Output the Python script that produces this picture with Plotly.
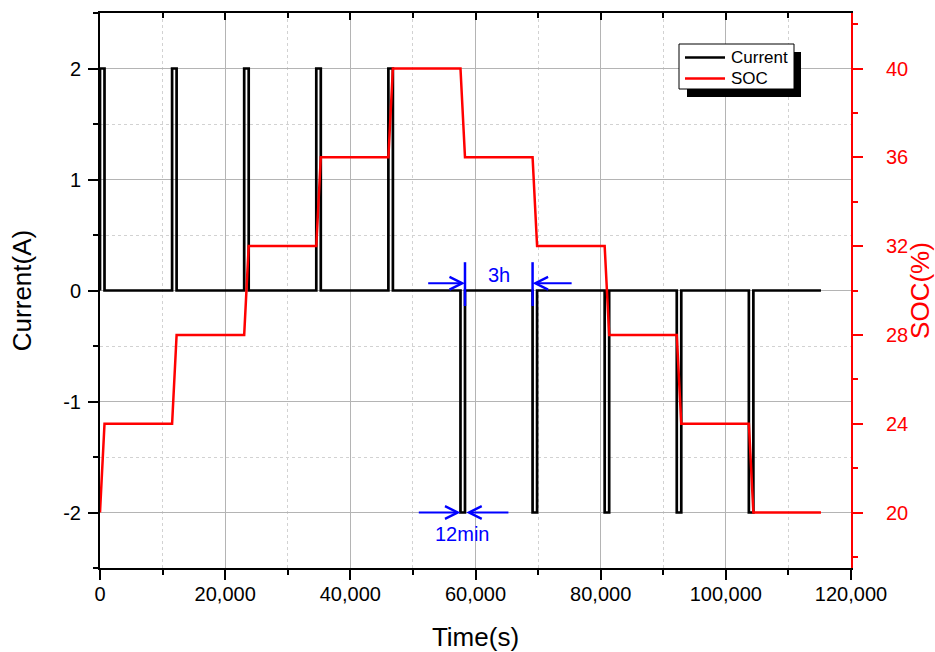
import plotly.graph_objects as go

# ---- data ----
charge_starts = [0, 11520, 23040, 34560, 46080]
discharge_starts = [57600, 69120, 80640, 92160, 103680]
pulse_duration = 720          # 12 min
end_time = 115200
charge_current = 2
discharge_current = -2
soc_levels = [20, 24, 28, 32, 36, 40, 36, 32, 28, 24, 20]

series_names = ["Current", "SOC"]
x_ticks = [0, 20000, 40000, 60000, 80000, 100000, 120000]
x_tick_labels = ["0", "20,000", "40,000", "60,000", "80,000", "100,000", "120,000"]
y_ticks = [-2, -1, 0, 1, 2]
y_tick_labels = ["-2", "-1", "0", "1", "2"]
soc_ticks = [20, 24, 28, 32, 36, 40]

# ---- build step traces ----
pulses = [(s, charge_current) for s in charge_starts] + [(s, discharge_current) for s in discharge_starts]
t_cur, i_cur = [], []
t_soc, v_soc = [], []
for k, (s, amp) in enumerate(pulses):
    e = s + pulse_duration
    t_cur += [s, s, e, e]
    i_cur += [0, amp, amp, 0]
    t_soc += [s, e]
    v_soc += [soc_levels[k], soc_levels[k + 1]]
t_cur.append(end_time); i_cur.append(0)
t_soc.append(end_time); v_soc.append(soc_levels[-1])

font_family = "Liberation Sans, Arial, sans-serif"
BLUE = "#0000ff"
RED = "#ff0000"
colors = ["black", RED]

fig = go.Figure()
fig.add_trace(go.Scatter(x=t_cur, y=i_cur, mode="lines", name=series_names[0],
                         line=dict(color=colors[0], width=2.7), showlegend=False))
fig.add_trace(go.Scatter(x=t_soc, y=v_soc, mode="lines", name=series_names[1],
                         line=dict(color=colors[1], width=2.5), yaxis="y2", showlegend=False))
# dummy trace to activate top axis
fig.add_trace(go.Scatter(x=[0], y=[0], xaxis="x2", mode="markers",
                         marker=dict(opacity=0), showlegend=False, hoverinfo="skip"))

grid_major = "#b4b4b4"
grid_minor = "#d2d2d2"
TICKF = 20

L, R, T, B = 100, 84, 13, 84
W, H = 935, 652
PW, PH = W - L - R, H - T - B


def px(x):
    return (x - L) / PW


def py(y):
    return (H - B - y) / PH


fig.update_layout(
    width=W, height=H,
    margin=dict(l=L, r=R, t=T, b=B, autoexpand=False),
    paper_bgcolor="white", plot_bgcolor="white",
    font=dict(family=font_family, size=TICKF, color="black"),
    showlegend=False,
    xaxis=dict(range=[0, 120000], tickvals=x_ticks, ticktext=x_tick_labels,
               ticks="outside", ticklen=10, tickwidth=2, tickcolor="black",
               showline=True, linecolor="black", linewidth=2, automargin=False,
               showgrid=True, gridcolor=grid_major, gridwidth=1,
               minor=dict(dtick=10000, tick0=0, ticks="outside", ticklen=5, tickwidth=1.5,
                          tickcolor="black", showgrid=True, gridcolor=grid_minor, griddash="dot"),
               zeroline=False, ticklabelstandoff=-3,
               title=dict(text="Time(s)", font=dict(size=26), standoff=25),
               tickfont=dict(size=TICKF)),
    xaxis2=dict(range=[0, 120000], overlaying="x", side="top", anchor="y",
                tickvals=x_ticks, showticklabels=False, automargin=False,
                ticks="inside", ticklen=7, tickwidth=2, tickcolor="black",
                showline=True, linecolor="black", linewidth=2, showgrid=False,
                minor=dict(dtick=10000, tick0=0, ticks="inside", ticklen=5, tickwidth=1.5, tickcolor="black"),
                zeroline=False),
    yaxis=dict(range=[-2.5, 2.5], tickvals=y_ticks, ticktext=y_tick_labels,
               ticks="outside", ticklen=10, tickwidth=2, tickcolor="black",
               showline=True, linecolor="black", linewidth=2, automargin=False,
               showgrid=True, gridcolor=grid_major, gridwidth=1,
               minor=dict(dtick=0.5, tick0=0, ticks="outside", ticklen=5, tickwidth=1.5,
                          tickcolor="black", showgrid=True, gridcolor=grid_minor, griddash="dot"),
               zeroline=False, ticklabelstandoff=3,
               title=dict(text="Current(A)", font=dict(size=26), standoff=24),
               tickfont=dict(size=TICKF)),
    yaxis2=dict(range=[17.5, 42.5], tickvals=soc_ticks, overlaying="y", side="right", anchor="x",
                ticks="outside", ticklen=10, tickwidth=2, tickcolor=RED, automargin=False,
                showline=True, linecolor=RED, linewidth=2, showgrid=False,
                minor=dict(dtick=2, tick0=0, ticks="outside", ticklen=5, tickwidth=1.5, tickcolor=RED),
                zeroline=False, ticklabelstandoff=19,
                tickfont=dict(size=TICKF, color=RED),
                title=dict(text="SOC(%)", font=dict(size=26, color=RED), standoff=8)),
)

# ---- legend box (drawn manually to match the framed, shadowed legend) ----
box = (679, 44, 794, 89)
fig.add_shape(type="rect", xref="paper", yref="paper",
              x0=px(box[0] + 8), x1=px(box[2] + 7), y0=py(box[3] + 8), y1=py(box[1] + 8),
              fillcolor="black", line=dict(width=0), layer="above")
fig.add_shape(type="rect", xref="paper", yref="paper",
              x0=px(box[0]), x1=px(box[2]), y0=py(box[3]), y1=py(box[1]),
              fillcolor="white", line=dict(color="black", width=1), layer="above")
for k, (nm, col) in enumerate(zip(series_names, colors)):
    yy = 57.5 + k * 21
    fig.add_shape(type="line", xref="paper", yref="paper",
                  x0=px(685), x1=px(725), y0=py(yy), y1=py(yy),
                  line=dict(color=col, width=2.5), layer="above")
    fig.add_annotation(xref="paper", yref="paper", x=px(729), y=py(yy), xanchor="left",
                       yanchor="middle", text=nm, showarrow=False,
                       font=dict(size=17, color="black"))

# ---- 3h annotation ----
rest_start = discharge_starts[0] + pulse_duration
rest_end = discharge_starts[1]
for xv in [rest_start, rest_end]:
    fig.add_shape(type="line", x0=xv, x1=xv, y0=-0.14, y1=0.255, xref="x", yref="y",
                  line=dict(color=BLUE, width=2.5))
arrow_y = 0.065
fig.add_annotation(x=rest_start, y=arrow_y, ax=52200, ay=arrow_y, axref="x", ayref="y",
                   xref="x", yref="y", showarrow=True, arrowhead=5, arrowsize=1.25,
                   arrowwidth=2, arrowcolor=BLUE, text="")
fig.add_annotation(x=rest_end, y=arrow_y, ax=75600, ay=arrow_y, axref="x", ayref="y",
                   xref="x", yref="y", showarrow=True, arrowhead=5, arrowsize=1.25,
                   arrowwidth=2, arrowcolor=BLUE, text="")
fig.add_annotation(x=63700, y=0.14, xref="x", yref="y",
                   text="3h", showarrow=False, font=dict(color=BLUE, size=20))

# ---- 12min annotation ----
p_s = discharge_starts[0]
p_e = discharge_starts[0] + pulse_duration
fig.add_annotation(x=p_s, y=-2, ax=50700, ay=-2, axref="x", ayref="y",
                   xref="x", yref="y", showarrow=True, arrowhead=5, arrowsize=1.25,
                   arrowwidth=2, arrowcolor=BLUE, text="")
fig.add_annotation(x=p_e + 200, y=-2, ax=65500, ay=-2, axref="x", ayref="y",
                   xref="x", yref="y", showarrow=True, arrowhead=5, arrowsize=1.25,
                   arrowwidth=2, arrowcolor=BLUE, text="")
fig.add_annotation(x=57900, y=-2.19, xref="x", yref="y",
                   text="12min", showarrow=False, font=dict(color=BLUE, size=20))

fig.write_html("out.html")
